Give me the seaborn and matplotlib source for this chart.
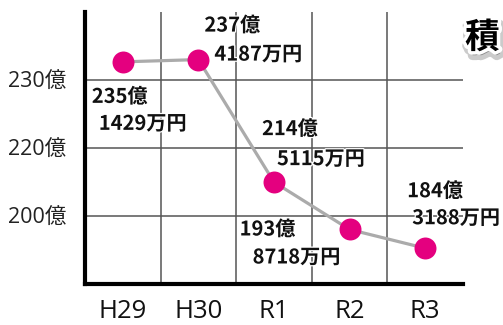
import numpy as np
import pandas as pd
import matplotlib
matplotlib.use('Agg')
import matplotlib.pyplot as plt
import matplotlib.patheffects as pe
from matplotlib import font_manager as fm
import seaborn as sns

# ---- data ----
years = ['H29', 'H30', 'R1', 'R2', 'R3']
oku = [235, 237, 214, 193, 184]          # 億
man = [1429, 4187, 5115, 8718, 3188]     # 万円
ytick_vals = [200, 220, 230]
ytick_labels = ['200億', '220億', '230億']
title_text = '積'

# non-uniform (schematic) value axis of the original chart: value -> relative height
scale_vals = [165, 180, 190, 200, 215, 220, 230, 235, 240, 260]
scale_pos = [0, 28, 46, 68, 103, 136, 204, 222, 227, 272]

# label placement (pixel offsets from each point: line 1 and line 2 top-left)
label_off1 = [(-31, 24), (6, -45), (-12, -64), (-110, -11), (-18, -68)]
label_off2 = [(-24, 51), (16, -16), (3, -34), (-97, 17), (-13, -41)]

values = [o + m / 10000 for o, m in zip(oku, man)]
df = pd.DataFrame({'year': years, 'value': values})
df['x'] = np.arange(len(df))

sns.set_theme(style='white')
plt.rcParams['font.family'] = ['Open Sans', 'Noto Sans CJK JP', 'DejaVu Sans']

names = {f.name for f in fm.fontManager.ttflist}
narrow = 'Liberation Sans Narrow' in names
label_family = ['Liberation Sans Narrow', 'Noto Sans CJK JP'] if narrow else ['Noto Sans CJK JP']
label_size = 16 if narrow else 14.5

W, H = 503, 325
fig = plt.figure(figsize=(W / 100, H / 100), dpi=100)
fig.patch.set_facecolor('white')
ax = fig.add_axes([85 / W, 41 / H, 378 / W, 272 / H])
ax.set_facecolor('white')

fwd = lambda v: np.interp(v, scale_vals, scale_pos)
inv = lambda p: np.interp(p, scale_pos, scale_vals)
ax.set_yscale('function', functions=(fwd, inv))

sns.lineplot(data=df, x='x', y='value', color='#ababab', lw=2.3, zorder=3, ax=ax)
sns.scatterplot(data=df, x='x', y='value', s=250, color='#e4007f', linewidth=0,
                zorder=4, ax=ax)

ax.set_xlim(-0.5, len(years) - 0.5)
ax.set_ylim(165, 260)
ax.set_xticks(range(len(years)), years)
ax.set_xticks(np.arange(0.5, len(years) - 1, 1.0), minor=True)
ax.set_yticks(ytick_vals, ytick_labels)
ax.yaxis.set_minor_locator(matplotlib.ticker.NullLocator())
ax.set_xlabel('')
ax.set_ylabel('')

ax.grid(False)
ax.grid(which='minor', axis='x', color='#555555', lw=1.1, zorder=1)
ax.grid(which='major', axis='y', color='#555555', lw=1.1, zorder=1)
ax.set_axisbelow(True)

ax.tick_params(axis='x', which='both', length=0, pad=11, labelsize=18.5,
               labelcolor='#111111')
ax.tick_params(axis='y', which='both', length=0, pad=13.5, labelsize=15.5,
               labelcolor='#222222')

for s in ['top', 'right']:
    ax.spines[s].set_visible(False)
for s in ['left', 'bottom']:
    ax.spines[s].set_visible(True)
    ax.spines[s].set_color('black')
    ax.spines[s].set_linewidth(3)
    ax.spines[s].set_zorder(6)

halo = [pe.withStroke(linewidth=1.8, foreground='white')]
for i, v in enumerate(values):
    for txt, (dx, dy) in ((f'{oku[i]}億', label_off1[i]), (f'{man[i]}万円', label_off2[i])):
        ax.annotate(txt, xy=(i, v), xytext=(dx * 0.72, -dy * 0.72),
                    textcoords='offset points', ha='left', va='top',
                    fontsize=label_size, fontweight='bold', family=label_family,
                    color='#111111', path_effects=halo, zorder=5)

fig.text(465 / W, 1 - 20 / H, title_text, ha='left', va='top', fontsize=25,
         fontweight='bold', family=['Noto Sans CJK JP'], color='black',
         path_effects=[pe.Stroke(linewidth=7, foreground='#999999', alpha=0.5, offset=(1, -3)),
                       pe.Stroke(linewidth=5, foreground='white'),
                       pe.Normal()])

fig.savefig('out.png', dpi=100)
